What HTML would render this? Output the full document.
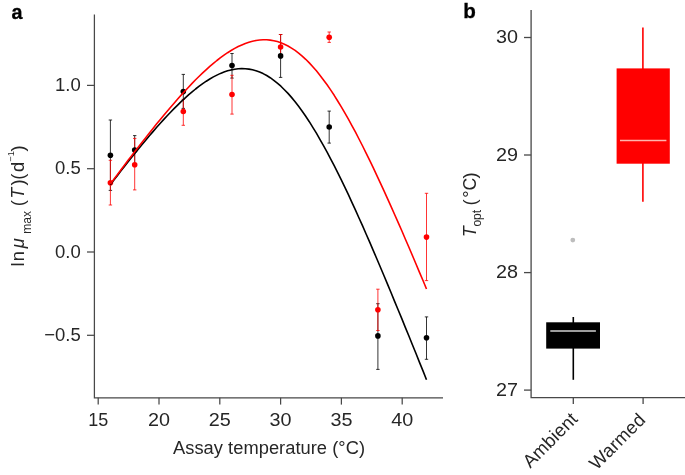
<!DOCTYPE html>
<html><head><meta charset="utf-8"><title>Figure</title>
<style>html,body{margin:0;padding:0;background:#fff}svg{display:block}text{font-family:"Liberation Sans",sans-serif}</style></head><body>
<svg width="685" height="475" viewBox="0 0 685 475">
<rect width="685" height="475" fill="#fff"/>
<g stroke="#484848" stroke-width="1.25" fill="none">
<path d="M94.4,14.5V397.8H443"/>
<path d="M87,85.4H94.4"/>
<path d="M87,168.7H94.4"/>
<path d="M87,252.0H94.4"/>
<path d="M87,335.3H94.4"/>
<path d="M98.2,397.8V404.6"/>
<path d="M159.0,397.8V404.6"/>
<path d="M219.8,397.8V404.6"/>
<path d="M280.6,397.8V404.6"/>
<path d="M341.4,397.8V404.6"/>
<path d="M402.2,397.8V404.6"/>
</g>
<g fill="#262626" font-size="18.3">
<text x="80.7" y="91.0" text-anchor="end" font-size="18.5">1.0</text>
<text x="80.7" y="174.3" text-anchor="end" font-size="18.5">0.5</text>
<text x="80.7" y="257.6" text-anchor="end" font-size="18.5">0.0</text>
<text x="80.7" y="340.9" text-anchor="end" font-size="18.5">−0.5</text>
<text x="98.2" y="425.9" text-anchor="middle" font-size="18.5" textLength="20" lengthAdjust="spacingAndGlyphs">15</text>
<text x="159.0" y="425.9" text-anchor="middle" font-size="18.5" textLength="22" lengthAdjust="spacingAndGlyphs">20</text>
<text x="219.8" y="425.9" text-anchor="middle" font-size="18.5" textLength="22" lengthAdjust="spacingAndGlyphs">25</text>
<text x="280.6" y="425.9" text-anchor="middle" font-size="18.5" textLength="22" lengthAdjust="spacingAndGlyphs">30</text>
<text x="341.4" y="425.9" text-anchor="middle" font-size="18.5" textLength="22" lengthAdjust="spacingAndGlyphs">35</text>
<text x="402.2" y="425.9" text-anchor="middle" font-size="18.5" textLength="22" lengthAdjust="spacingAndGlyphs">40</text>
<text x="269" y="453.7" text-anchor="middle" textLength="192" lengthAdjust="spacing">Assay temperature (°C)</text>
<text transform="translate(24.2,266.4) rotate(-90)"><tspan x="0" letter-spacing="1.2">ln</tspan><tspan x="18.2" font-style="italic">μ</tspan><tspan x="32.7" dy="6.3" font-size="12">max</tspan><tspan x="60.1" dy="-6.3">(</tspan><tspan x="68" font-style="italic" font-size="17.5">T</tspan><tspan x="80.8">)</tspan><tspan x="86.6">(</tspan><tspan x="94.4">d</tspan><tspan x="104.7" dy="-9.9" font-size="9.2">−1</tspan><tspan x="115" dy="9.9">)</tspan></text>
</g>
<text x="11.4" y="18.6" font-size="19.8" font-weight="bold" fill="#000" stroke="#000" stroke-width="0.3">a</text>
<text x="463.2" y="18.1" font-size="20.6" font-weight="bold" fill="#000" stroke="#000" stroke-width="0.3">b</text>
<path d="M110.4,120.0V190.4M108.7,120.0h3.4M108.7,190.4h3.4" stroke="#000" stroke-width="0.8" fill="none"/>
<path d="M134.7,135.6V165.0M133.0,135.6h3.4M133.0,165.0h3.4" stroke="#000" stroke-width="0.8" fill="none"/>
<path d="M183.3,74.4V108.4M181.6,74.4h3.4M181.6,108.4h3.4" stroke="#000" stroke-width="0.8" fill="none"/>
<path d="M232.0,53.5V78.1M230.3,53.5h3.4M230.3,78.1h3.4" stroke="#000" stroke-width="0.8" fill="none"/>
<path d="M280.6,34.5V77.4M278.9,34.5h3.4M278.9,77.4h3.4" stroke="#000" stroke-width="0.8" fill="none"/>
<path d="M329.2,111.1V143.1M327.5,111.1h3.4M327.5,143.1h3.4" stroke="#000" stroke-width="0.8" fill="none"/>
<path d="M377.9,303.7V369.4M376.2,303.7h3.4M376.2,369.4h3.4" stroke="#000" stroke-width="0.8" fill="none"/>
<path d="M426.5,316.9V359.3M424.8,316.9h3.4M424.8,359.3h3.4" stroke="#000" stroke-width="0.8" fill="none"/>
<path d="M110.4,160.3V205.0M108.7,160.3h3.4M108.7,205.0h3.4" stroke="#ff0000" stroke-width="0.8" fill="none"/>
<path d="M134.7,138.4V189.9M133.0,138.4h3.4M133.0,189.9h3.4" stroke="#ff0000" stroke-width="0.8" fill="none"/>
<path d="M183.3,99.3V125.3M181.6,99.3h3.4M181.6,125.3h3.4" stroke="#ff0000" stroke-width="0.8" fill="none"/>
<path d="M232.0,75.3V114.1M230.3,75.3h3.4M230.3,114.1h3.4" stroke="#ff0000" stroke-width="0.8" fill="none"/>
<path d="M280.6,34.5V56.5M278.9,34.5h3.4M278.9,56.5h3.4" stroke="#ff0000" stroke-width="0.8" fill="none"/>
<path d="M329.2,32.0V42.4M327.5,32.0h3.4M327.5,42.4h3.4" stroke="#ff0000" stroke-width="0.8" fill="none"/>
<path d="M377.9,289.2V330.5M376.2,289.2h3.4M376.2,330.5h3.4" stroke="#ff0000" stroke-width="0.8" fill="none"/>
<path d="M426.5,193.3V280.6M424.8,193.3h3.4M424.8,280.6h3.4" stroke="#ff0000" stroke-width="0.8" fill="none"/>
<circle cx="110.4" cy="155.3" r="2.8" fill="#000"/>
<circle cx="134.7" cy="150.1" r="2.8" fill="#000"/>
<circle cx="183.3" cy="91.6" r="2.8" fill="#000"/>
<circle cx="232.0" cy="65.5" r="2.8" fill="#000"/>
<circle cx="280.6" cy="55.9" r="2.8" fill="#000"/>
<circle cx="329.2" cy="127.0" r="2.8" fill="#000"/>
<circle cx="377.9" cy="335.9" r="2.8" fill="#000"/>
<circle cx="426.5" cy="337.8" r="2.8" fill="#000"/>
<circle cx="110.4" cy="182.7" r="2.8" fill="#ff0000"/>
<circle cx="134.7" cy="164.7" r="2.8" fill="#ff0000"/>
<circle cx="183.3" cy="111.5" r="2.8" fill="#ff0000"/>
<circle cx="232.0" cy="94.5" r="2.8" fill="#ff0000"/>
<circle cx="280.6" cy="47.0" r="2.8" fill="#ff0000"/>
<circle cx="329.2" cy="37.2" r="2.8" fill="#ff0000"/>
<circle cx="377.9" cy="309.7" r="2.8" fill="#ff0000"/>
<circle cx="426.5" cy="237.1" r="2.8" fill="#ff0000"/>
<polyline points="110.4,184.7 113.9,180.0 117.5,175.4 121.0,170.8 124.6,166.3 128.1,161.8 131.7,157.3 135.2,152.9 138.8,148.5 142.3,144.2 145.9,139.9 149.4,135.7 153.0,131.6 156.5,127.5 160.1,123.5 163.6,119.6 167.2,115.8 170.8,112.0 174.3,108.4 177.9,104.9 181.4,101.4 185.0,98.1 188.5,94.9 192.1,91.9 195.6,89.0 199.2,86.2 202.7,83.6 206.3,81.2 209.8,79.0 213.4,76.9 216.9,75.1 220.5,73.4 224.0,72.0 227.6,70.8 231.1,69.9 234.7,69.2 238.2,68.7 241.8,68.6 245.3,68.7 248.9,69.1 252.5,69.8 256.0,70.8 259.6,72.0 263.1,73.6 266.7,75.5 270.2,77.7 273.8,80.3 277.3,83.1 280.9,86.2 284.4,89.7 288.0,93.4 291.5,97.4 295.1,101.7 298.6,106.3 302.2,111.2 305.7,116.3 309.3,121.7 312.8,127.3 316.4,133.2 319.9,139.3 323.5,145.6 327.1,152.1 330.6,158.8 334.2,165.7 337.7,172.7 341.3,179.9 344.8,187.2 348.4,194.7 351.9,202.4 355.5,210.1 359.0,218.0 362.6,225.9 366.1,234.0 369.7,242.1 373.2,250.4 376.8,258.7 380.3,267.0 383.9,275.5 387.4,283.9 391.0,292.5 394.5,301.1 398.1,309.7 401.7,318.4 405.2,327.1 408.8,335.8 412.3,344.5 415.9,353.3 419.4,362.1 423.0,370.9 426.5,379.8" fill="none" stroke="#000" stroke-width="1.6" stroke-linejoin="round"/>
<polyline points="110.4,184.1 113.9,179.3 117.5,174.5 121.0,169.8 124.6,165.0 128.1,160.3 131.7,155.7 135.2,151.1 138.8,146.5 142.3,141.9 145.9,137.4 149.4,132.9 153.0,128.4 156.5,124.1 160.1,119.7 163.6,115.4 167.2,111.2 170.8,107.0 174.3,102.9 177.9,98.8 181.4,94.9 185.0,91.0 188.5,87.2 192.1,83.4 195.6,79.8 199.2,76.3 202.7,72.9 206.3,69.6 209.8,66.4 213.4,63.4 216.9,60.5 220.5,57.7 224.0,55.1 227.6,52.7 231.1,50.5 234.7,48.4 238.2,46.5 241.8,44.9 245.3,43.4 248.9,42.2 252.5,41.2 256.0,40.5 259.6,40.0 263.1,39.8 266.7,39.8 270.2,40.1 273.8,40.7 277.3,41.6 280.9,42.8 284.4,44.2 288.0,46.0 291.5,48.1 295.1,50.4 298.6,53.1 302.2,56.1 305.7,59.3 309.3,62.9 312.8,66.7 316.4,70.8 319.9,75.2 323.5,79.9 327.1,84.8 330.6,89.9 334.2,95.3 337.7,101.0 341.3,106.8 344.8,112.9 348.4,119.2 351.9,125.6 355.5,132.2 359.0,139.0 362.6,146.0 366.1,153.1 369.7,160.4 373.2,167.7 376.8,175.3 380.3,182.9 383.9,190.6 387.4,198.4 391.0,206.3 394.5,214.3 398.1,222.4 401.7,230.5 405.2,238.7 408.8,247.0 412.3,255.3 415.9,263.7 419.4,272.1 423.0,280.5 426.5,289.0" fill="none" stroke="#ff0000" stroke-width="1.6" stroke-linejoin="round"/>
<g stroke="#484848" stroke-width="1.3" fill="none">
<path d="M531.1,10V397.7H685"/>
<path d="M524,390.1H531.1"/>
<path d="M524,272.6H531.1"/>
<path d="M524,155.0H531.1"/>
<path d="M524,37.5H531.1"/>
<path d="M573.3,397.7V404"/>
<path d="M643.1,397.7V404"/>
</g>
<g fill="#262626" font-size="18.3">
<text x="518" y="395.7" text-anchor="end" font-size="18.5" textLength="22" lengthAdjust="spacingAndGlyphs">27</text>
<text x="518" y="278.2" text-anchor="end" font-size="18.5" textLength="22" lengthAdjust="spacingAndGlyphs">28</text>
<text x="518" y="160.6" text-anchor="end" font-size="18.5" textLength="22" lengthAdjust="spacingAndGlyphs">29</text>
<text x="518" y="43.1" text-anchor="end" font-size="18.5" textLength="22" lengthAdjust="spacingAndGlyphs">30</text>
<text transform="translate(475.5,236.2) rotate(-90)"><tspan x="-0.8" font-style="italic" font-size="17.5">T</tspan><tspan x="9.6" dy="5.2" font-size="12">opt</tspan><tspan x="30.6" dy="-5.2">(</tspan><tspan x="38.5">°</tspan><tspan x="45.6" font-size="17.6">C</tspan><tspan x="57.8" font-size="18.3">)</tspan></text>
<text transform="translate(578.7,420.2) rotate(-45)" text-anchor="end" font-size="18.5" textLength="68.7" lengthAdjust="spacing">Ambient</text>
<text transform="translate(646.5,421) rotate(-45)" text-anchor="end" font-size="18.5" textLength="70.5" lengthAdjust="spacing">Warmed</text>
</g>
<path d="M573.3,317V379.8" stroke="#000" stroke-width="1.6"/>
<rect x="546.2" y="322.3" width="53.8" height="26.3" fill="#000"/>
<path d="M550.3,330.9H595.9" stroke="#d2d2d2" stroke-width="1.5"/>
<circle cx="572.8" cy="240.1" r="2.4" fill="#bdbdbd"/>
<path d="M642.9,27.6V201.7" stroke="#ff0000" stroke-width="1.6"/>
<rect x="616.6" y="68.4" width="53.2" height="95.3" fill="#ff0000"/>
<path d="M620,140.4H666.4" stroke="#ffb4ac" stroke-width="1.5"/>
</svg></body></html>
